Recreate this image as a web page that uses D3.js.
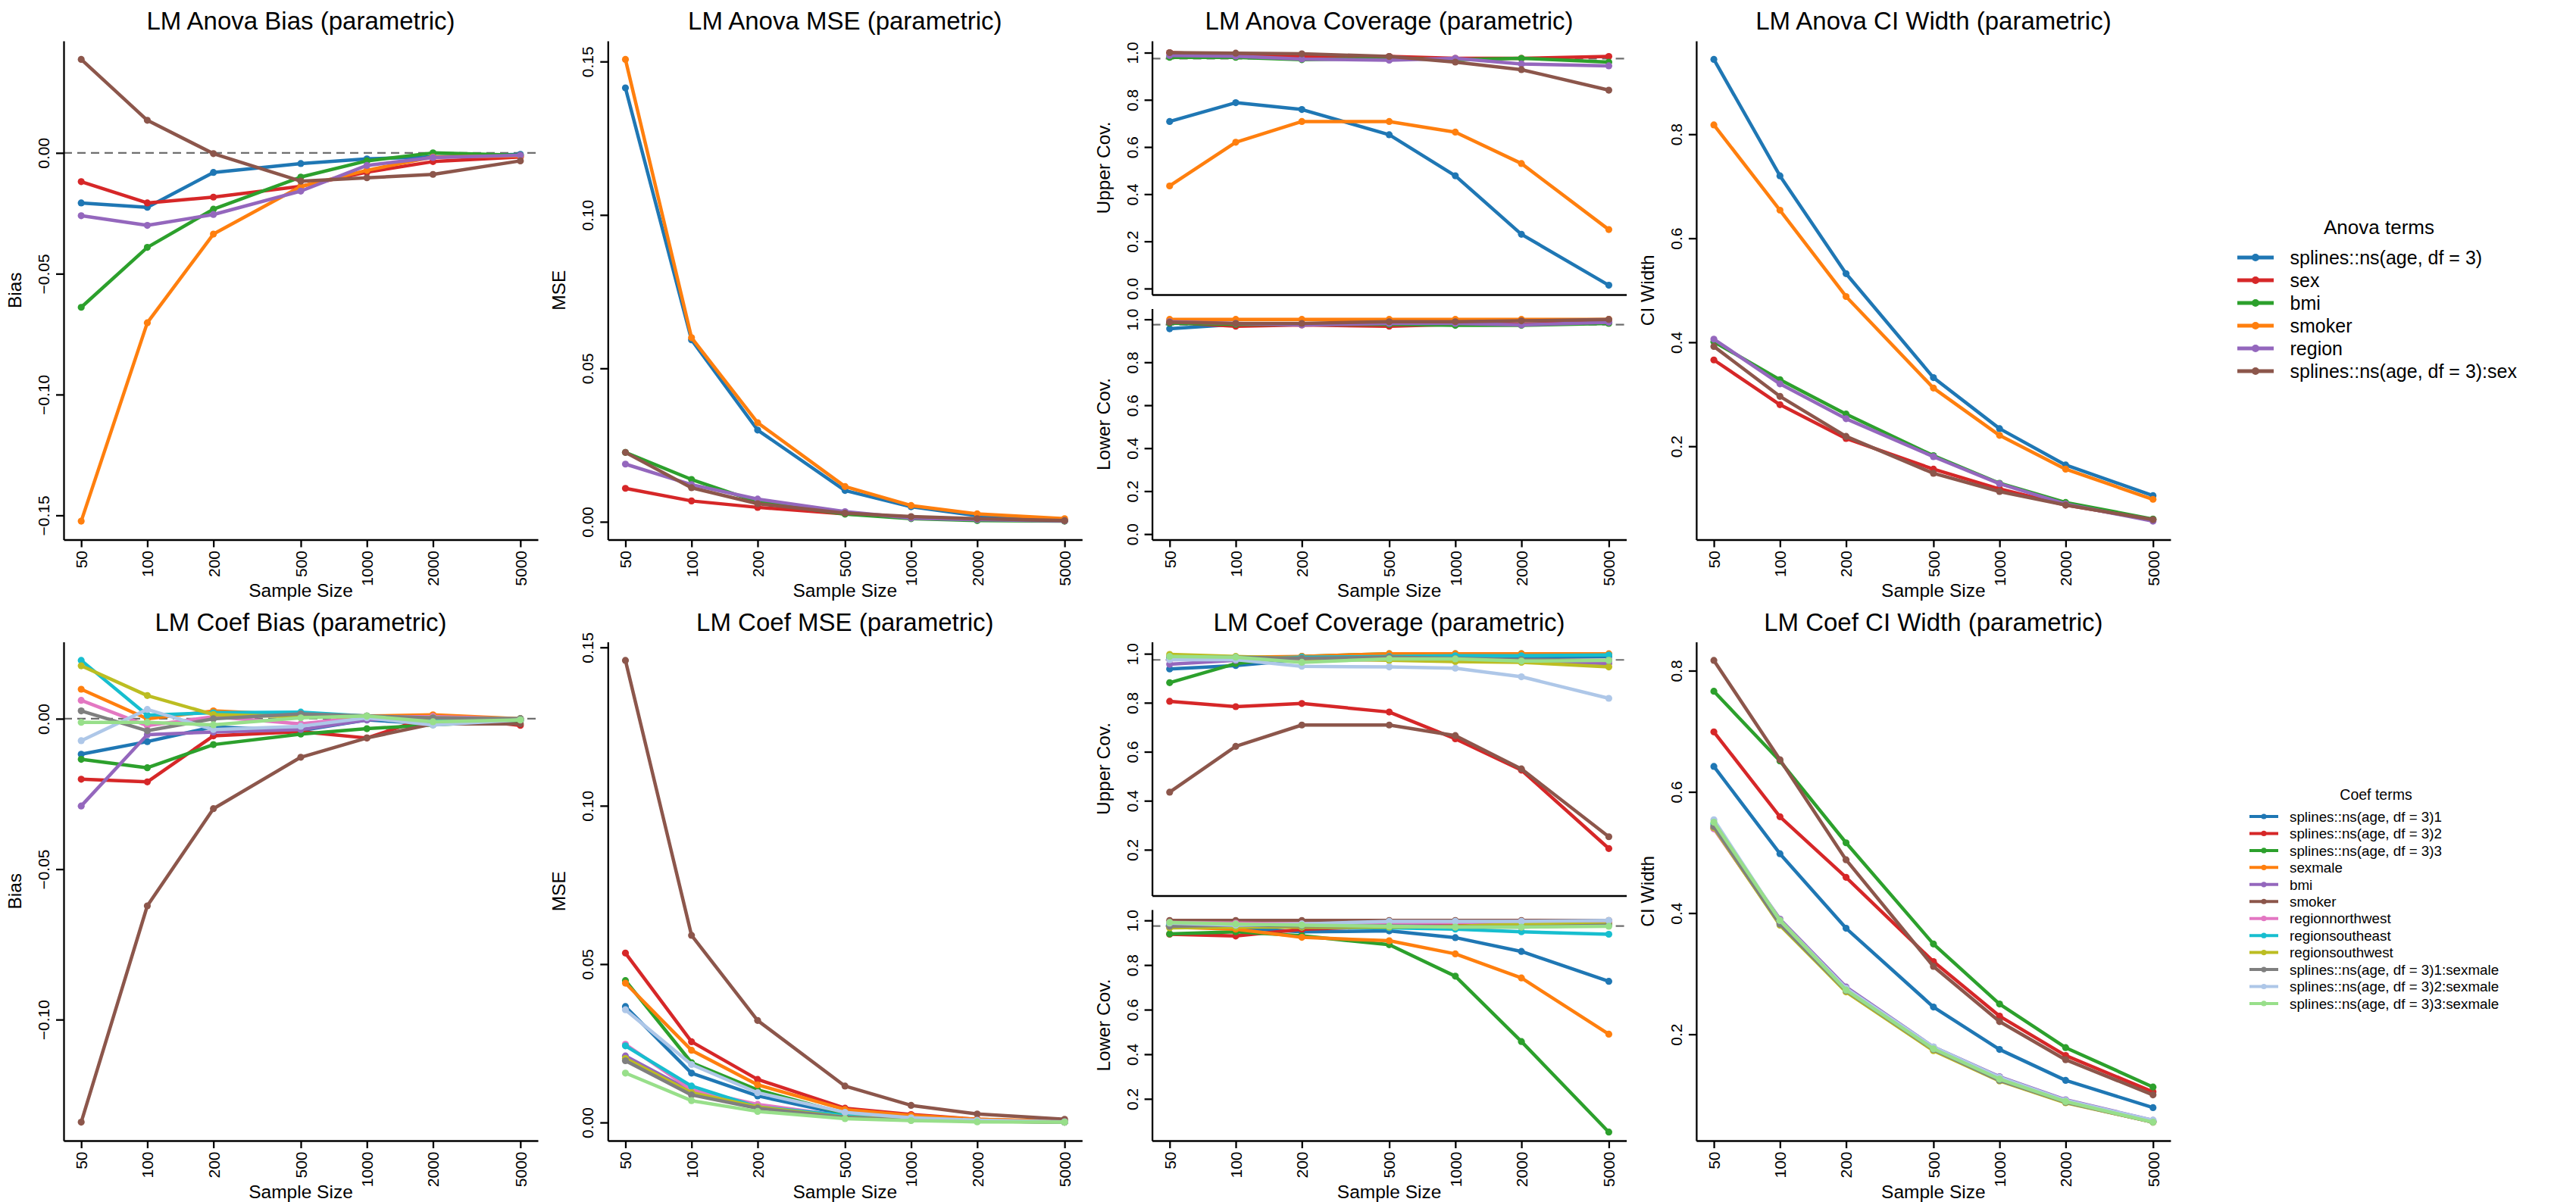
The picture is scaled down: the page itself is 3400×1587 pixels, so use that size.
<!DOCTYPE html>
<html>
<head>
<meta charset="utf-8">
<script src="https://cdn.jsdelivr.net/npm/d3@7"></script>
<style>
  body { margin: 0; background: #fff; }
</style>
</head>
<body>
<div id="chart"></div>
<script>
// Simulation summary: LM anova / coefficient terms vs sample size

const sampleSizes = [50, 100, 200, 500, 1000, 2000, 5000];

const anovaTerms = [
  "splines::ns(age, df = 3)", "sex", "bmi", "smoker", "region",
  "splines::ns(age, df = 3):sex"
];
const coefTerms = [
  "splines::ns(age, df = 3)1", "splines::ns(age, df = 3)2", "splines::ns(age, df = 3)3",
  "sexmale", "bmi", "smoker", "regionnorthwest", "regionsoutheast", "regionsouthwest",
  "splines::ns(age, df = 3)1:sexmale", "splines::ns(age, df = 3)2:sexmale",
  "splines::ns(age, df = 3)3:sexmale"
];

const anovaColors = ["#1f77b4", "#d62728", "#2ca02c", "#ff7f0e", "#9467bd", "#8c564b"];
const coefColors = ["#1f77b4", "#d62728", "#2ca02c", "#ff7f0e", "#9467bd", "#8c564b",
  "#e377c2", "#17becf", "#bcbd22", "#7f7f7f", "#aec7e8", "#98df8a"];

// ---- Anova terms (rows follow anovaTerms) ----
const anovaBias = [
  [-0.0207, -0.0225, -0.0081, -0.0044, -0.0025, -0.0016, -0.0006],
  [-0.0119, -0.0207, -0.0183, -0.0138, -0.0080, -0.0036, -0.0017],
  [-0.0639, -0.0391, -0.0233, -0.0100, -0.0033, 0.0000, -0.0010],
  [-0.1524, -0.0703, -0.0336, -0.0139, -0.0072, -0.0017, -0.0013],
  [-0.0260, -0.0300, -0.0255, -0.0158, -0.0052, -0.0019, -0.0010],
  [0.0387, 0.0135, -0.0003, -0.0117, -0.0103, -0.0089, -0.0033]
];
const anovaMse = [
  [0.1414, 0.0593, 0.0299, 0.0102, 0.0049, 0.0020, 0.0005],
  [0.0109, 0.0068, 0.0047, 0.0026, 0.0015, 0.0008, 0.0003],
  [0.0226, 0.0138, 0.0065, 0.0025, 0.0010, 0.0004, 0.0002],
  [0.1507, 0.0600, 0.0323, 0.0115, 0.0053, 0.0026, 0.0010],
  [0.0188, 0.0121, 0.0074, 0.0033, 0.0012, 0.0007, 0.0003],
  [0.0226, 0.0111, 0.0059, 0.0028, 0.0017, 0.0010, 0.0004]
];
const anovaUpperCov = [
  [0.708, 0.788, 0.759, 0.652, 0.478, 0.230, 0.014],
  [1.000, 0.990, 0.985, 0.984, 0.976, 0.976, 0.984],
  [0.980, 0.980, 0.970, 0.976, 0.970, 0.976, 0.960],
  [0.435, 0.620, 0.708, 0.708, 0.663, 0.530, 0.250],
  [0.988, 0.985, 0.973, 0.968, 0.976, 0.952, 0.944],
  [1.000, 0.998, 0.995, 0.984, 0.960, 0.928, 0.841]
];
const anovaLowerCov = [
  [0.956, 0.977, 0.977, 0.986, 0.982, 0.977, 0.986],
  [0.986, 0.968, 0.974, 0.968, 0.977, 0.977, 0.986],
  [0.982, 0.977, 0.977, 0.977, 0.972, 0.972, 0.981],
  [1.000, 1.000, 1.000, 1.000, 1.000, 1.000, 1.000],
  [0.989, 0.981, 0.974, 0.981, 0.981, 0.974, 0.986],
  [0.986, 0.981, 0.981, 0.989, 0.989, 0.993, 1.000]
];
const anovaCiWidth = [
  [0.944, 0.720, 0.532, 0.332, 0.234, 0.164, 0.105],
  [0.366, 0.280, 0.215, 0.156, 0.118, 0.087, 0.059],
  [0.401, 0.328, 0.262, 0.182, 0.129, 0.092, 0.060],
  [0.818, 0.654, 0.488, 0.312, 0.221, 0.156, 0.098],
  [0.406, 0.320, 0.253, 0.180, 0.128, 0.089, 0.056],
  [0.392, 0.296, 0.219, 0.148, 0.113, 0.087, 0.059]
];

// ---- Coefficient terms (rows follow coefTerms) ----
const coefBias = [
  [-0.0118, -0.0076, -0.0027, -0.0039, -0.0004, -0.0017, -0.0004],
  [-0.0201, -0.0210, -0.0057, -0.0043, -0.0064, 0.0009, -0.0022],
  [-0.0135, -0.0163, -0.0086, -0.0051, -0.0033, -0.0020, -0.0007],
  [0.0098, 0.0000, 0.0026, 0.0012, 0.0009, 0.0013, 0.0000],
  [-0.0290, -0.0053, -0.0044, -0.0036, -0.0004, 0.0007, -0.0004],
  [-0.1341, -0.0622, -0.0299, -0.0128, -0.0064, -0.0017, -0.0017],
  [0.0061, -0.0023, 0.0007, -0.0017, 0.0007, 0.0007, 0.0000],
  [0.0194, 0.0012, 0.0020, 0.0022, 0.0009, -0.0004, 0.0000],
  [0.0176, 0.0077, 0.0014, 0.0007, 0.0007, 0.0003, 0.0000],
  [0.0026, -0.0040, 0.0000, 0.0016, 0.0009, 0.0003, 0.0000],
  [-0.0073, 0.0031, -0.0036, -0.0025, 0.0003, -0.0021, -0.0004],
  [-0.0012, -0.0012, -0.0020, 0.0003, 0.0009, -0.0010, -0.0004]
];
const coefMse = [
  [0.0366, 0.0156, 0.0084, 0.0025, 0.0012, 0.0005, 0.0002],
  [0.0535, 0.0255, 0.0136, 0.0045, 0.0025, 0.0010, 0.0002],
  [0.0448, 0.0189, 0.0103, 0.0028, 0.0016, 0.0007, 0.0002],
  [0.0440, 0.0228, 0.0119, 0.0041, 0.0022, 0.0010, 0.0004],
  [0.0210, 0.0099, 0.0049, 0.0020, 0.0010, 0.0005, 0.0001],
  [0.1459, 0.0591, 0.0322, 0.0115, 0.0054, 0.0027, 0.0010],
  [0.0247, 0.0103, 0.0057, 0.0020, 0.0010, 0.0005, 0.0001],
  [0.0242, 0.0115, 0.0049, 0.0022, 0.0010, 0.0005, 0.0001],
  [0.0202, 0.0094, 0.0049, 0.0017, 0.0009, 0.0004, 0.0001],
  [0.0195, 0.0087, 0.0045, 0.0016, 0.0007, 0.0004, 0.0001],
  [0.0356, 0.0183, 0.0094, 0.0032, 0.0015, 0.0007, 0.0002],
  [0.0156, 0.0069, 0.0035, 0.0012, 0.0006, 0.0002, 0.0001]
];
const coefUpperCov = [
  [0.938, 0.952, 0.976, 0.989, 0.989, 0.989, 0.989],
  [0.806, 0.784, 0.797, 0.762, 0.653, 0.525, 0.205],
  [0.882, 0.960, 0.989, 1.000, 1.000, 1.000, 0.997],
  [0.989, 0.986, 0.989, 1.000, 1.000, 1.000, 1.000],
  [0.957, 0.973, 0.981, 0.976, 0.973, 0.968, 0.960],
  [0.435, 0.622, 0.709, 0.709, 0.666, 0.530, 0.253],
  [0.976, 0.981, 0.973, 0.976, 0.976, 0.973, 0.973],
  [0.981, 0.981, 0.986, 0.989, 0.992, 0.992, 0.995],
  [0.997, 0.989, 0.981, 0.973, 0.968, 0.965, 0.946],
  [0.986, 0.986, 0.981, 0.986, 0.981, 0.976, 0.973],
  [0.976, 0.976, 0.949, 0.946, 0.941, 0.906, 0.818],
  [0.989, 0.986, 0.965, 0.979, 0.979, 0.970, 0.973]
];
const coefLowerCov = [
  [0.979, 0.967, 0.949, 0.953, 0.923, 0.861, 0.727],
  [0.938, 0.930, 0.960, 0.974, 0.979, 0.984, 0.988],
  [0.940, 0.949, 0.931, 0.891, 0.750, 0.457, 0.051],
  [0.970, 0.961, 0.924, 0.909, 0.850, 0.742, 0.490],
  [0.988, 0.984, 0.979, 0.988, 0.991, 0.996, 0.996],
  [1.000, 1.000, 1.000, 1.000, 1.000, 1.000, 1.000],
  [0.991, 0.988, 0.984, 0.991, 0.991, 0.995, 0.996],
  [0.979, 0.974, 0.970, 0.967, 0.961, 0.949, 0.938],
  [0.967, 0.970, 0.970, 0.970, 0.974, 0.984, 0.984],
  [0.974, 0.979, 0.975, 0.975, 0.970, 0.970, 0.979],
  [0.988, 0.979, 0.984, 0.996, 0.996, 0.996, 1.000],
  [0.991, 0.984, 0.979, 0.974, 0.970, 0.970, 0.974]
];
const coefCiWidth = [
  [0.642, 0.498, 0.375, 0.245, 0.175, 0.124, 0.079],
  [0.699, 0.559, 0.459, 0.320, 0.230, 0.165, 0.105],
  [0.766, 0.651, 0.516, 0.349, 0.250, 0.178, 0.113],
  [0.540, 0.382, 0.271, 0.174, 0.124, 0.088, 0.055],
  [0.545, 0.390, 0.278, 0.179, 0.130, 0.092, 0.058],
  [0.817, 0.653, 0.488, 0.312, 0.221, 0.158, 0.100],
  [0.539, 0.383, 0.272, 0.175, 0.124, 0.088, 0.055],
  [0.548, 0.384, 0.273, 0.176, 0.126, 0.089, 0.056],
  [0.541, 0.380, 0.270, 0.173, 0.123, 0.087, 0.055],
  [0.543, 0.382, 0.272, 0.175, 0.124, 0.088, 0.055],
  [0.554, 0.388, 0.276, 0.179, 0.129, 0.091, 0.058],
  [0.550, 0.388, 0.273, 0.176, 0.126, 0.089, 0.055]
];

const COV_TARGET = 0.975;   // one-sided nominal coverage
const COV_TOP = 1.01;

// ---------------------------------------------------------------
const W = 3400, H = 1587;
const FONT = "'Liberation Sans', Arial, Helvetica, sans-serif";
const COL_W = 718.3, ROW_H = 793.5;
const PX = [84, 710];
const LOG_PAD = Math.pow(10, 0.08);   // R's 4% axis extension on 2 decades

const svg = d3.select("#chart").append("svg")
  .attr("width", W).attr("height", H)
  .style("display", "block")
  .style("background", "#fff");

function padDomain(lo, hi) {
  var p = (hi - lo) * 0.04;
  return [lo - p, hi + p];
}

function extentOf(series) {
  return d3.extent(series.flat());
}

// ticks at a fixed step inside the domain (like R's pretty())
function stepTicks(domain, step) {
  var out = [];
  for (var k = Math.ceil(domain[0] / step - 1e-9); k * step <= domain[1] + 1e-9; k++) {
    out.push(+(k * step).toFixed(6));
  }
  return out;
}

function drawTitle(col, row, text) {
  svg.append("text")
    .attr("x", col * COL_W + (PX[0] + PX[1]) / 2)
    .attr("y", row * ROW_H + 39)
    .attr("text-anchor", "middle")
    .attr("font-family", FONT).attr("font-size", 33)
    .attr("fill", "#000").text(text);
}

function drawPanel(o) {
  var g = svg.append("g")
    .attr("transform", "translate(" + (o.col * COL_W) + "," + (o.row * ROW_H) + ")");

  var x = d3.scaleLog()
    .domain([sampleSizes[0] / LOG_PAD, sampleSizes[sampleSizes.length - 1] * LOG_PAD])
    .range(PX);
  var y = d3.scaleLinear().domain(o.domain).range([o.bottom, o.top]);

  // reference line
  if (o.refY != null) {
    g.append("line")
      .attr("x1", PX[0]).attr("x2", PX[1])
      .attr("y1", y(o.refY)).attr("y2", y(o.refY))
      .attr("stroke", "#6e6e6e").attr("stroke-width", 2.2)
      .attr("stroke-dasharray", "11,7");
  }

  var line = d3.line()
    .x(function (d, i) { return x(sampleSizes[i]); })
    .y(function (d) { return y(d); });

  o.series.forEach(function (s, k) {
    g.append("path")
      .attr("d", line(s))
      .attr("fill", "none")
      .attr("stroke", o.colors[k])
      .attr("stroke-width", 4.5)
      .attr("stroke-linejoin", "round")
      .attr("stroke-linecap", "round");
    g.selectAll(null).data(s).enter().append("circle")
      .attr("cx", function (d, i) { return x(sampleSizes[i]); })
      .attr("cy", function (d) { return y(d); })
      .attr("r", 4.6)
      .attr("fill", o.colors[k]);
  });

  // y axis
  var ya = g.append("g")
    .attr("transform", "translate(" + PX[0] + ",0)")
    .call(d3.axisLeft(y)
      .tickValues(stepTicks(o.domain, o.step))
      .tickFormat(d3.format(o.fmt)).tickSize(10).tickSizeOuter(0));
  ya.attr("font-family", FONT).attr("font-size", 21);
  ya.select(".domain").attr("stroke", "#000").attr("stroke-width", 2.3);
  ya.selectAll(".tick line").attr("stroke", "#000").attr("stroke-width", 2.3);
  ya.selectAll(".tick text")
    .attr("transform", "rotate(-90)")
    .attr("x", 0).attr("y", -19).attr("dy", null)
    .attr("text-anchor", "middle").attr("fill", "#000");

  // x axis
  var xa = g.append("g")
    .attr("transform", "translate(0," + o.bottom + ")")
    .call(d3.axisBottom(x)
      .tickValues(o.xLabels ? sampleSizes : [])
      .tickFormat(d3.format("d"))
      .tickSize(10).tickSizeOuter(0));
  xa.attr("font-family", FONT).attr("font-size", 21);
  xa.select(".domain").attr("stroke", "#000").attr("stroke-width", 2.3);
  xa.selectAll(".tick line").attr("stroke", "#000").attr("stroke-width", 2.3);
  xa.selectAll(".tick text")
    .attr("transform", "rotate(-90)")
    .attr("x", -14.5).attr("y", 0).attr("dy", "0.35em")
    .attr("text-anchor", "end").attr("fill", "#000");

  // axis titles
  g.append("text")
    .attr("transform", "translate(28," + ((o.top + o.bottom) / 2) + ") rotate(-90)")
    .attr("text-anchor", "middle")
    .attr("font-family", FONT).attr("font-size", 24.5)
    .attr("fill", "#000").text(o.yTitle);

  if (o.xLabels) {
    g.append("text")
      .attr("x", (PX[0] + PX[1]) / 2).attr("y", 788)
      .attr("text-anchor", "middle")
      .attr("font-family", FONT).attr("font-size", 24.5)
      .attr("fill", "#000").text("Sample Size");
  }
}

function drawRow(row, label, terms, colors, bias, mse, upper, lower, ciw) {
  var b = extentOf(bias), m = extentOf(mse), c = extentOf(ciw);
  var covDomain = padDomain(d3.min(upper.concat(lower).flat()), COV_TOP);

  drawTitle(0, row, "LM " + label + " Bias (parametric)");
  drawPanel({ col: 0, row: row, top: 54, bottom: 712.5, series: bias, colors: colors,
    domain: padDomain(b[0], b[1]), step: 0.05, fmt: ".2f", yTitle: "Bias",
    xLabels: true, refY: 0 });

  drawTitle(1, row, "LM " + label + " MSE (parametric)");
  drawPanel({ col: 1, row: row, top: 54, bottom: 712.5, series: mse, colors: colors,
    domain: padDomain(m[0], m[1]), step: 0.05, fmt: ".2f", yTitle: "MSE", xLabels: true });

  drawTitle(2, row, "LM " + label + " Coverage (parametric)");
  drawPanel({ col: 2, row: row, top: 54, bottom: 389, series: upper, colors: colors,
    domain: covDomain, step: 0.2, fmt: ".1f", yTitle: "Upper Cov.",
    xLabels: false, refY: COV_TARGET });
  drawPanel({ col: 2, row: row, top: 407.5, bottom: 712.5, series: lower, colors: colors,
    domain: covDomain, step: 0.2, fmt: ".1f", yTitle: "Lower Cov.",
    xLabels: true, refY: COV_TARGET });

  drawTitle(3, row, "LM " + label + " CI Width (parametric)");
  drawPanel({ col: 3, row: row, top: 54, bottom: 712.5, series: ciw, colors: colors,
    domain: padDomain(c[0], c[1]), step: 0.2, fmt: ".1f", yTitle: "CI Width", xLabels: true });
}

function drawLegend(o) {
  var g = svg.append("g");
  g.append("text")
    .attr("x", o.titleX).attr("y", o.titleY)
    .attr("text-anchor", "middle")
    .attr("font-family", FONT).attr("font-size", o.titleSize)
    .attr("fill", "#000").text(o.title);

  var item = g.selectAll("g.item").data(o.terms).enter().append("g")
    .attr("class", "item")
    .attr("transform", function (d, i) { return "translate(0," + (o.y0 + i * o.step) + ")"; });
  item.append("line")
    .attr("x1", o.lineX[0]).attr("x2", o.lineX[1])
    .attr("stroke", function (d, i) { return o.colors[i]; })
    .attr("stroke-width", o.lw);
  item.append("circle")
    .attr("cx", (o.lineX[0] + o.lineX[1]) / 2)
    .attr("r", o.r)
    .attr("fill", function (d, i) { return o.colors[i]; });
  item.append("text")
    .attr("x", o.textX).attr("dy", "0.36em")
    .attr("font-family", FONT).attr("font-size", o.size)
    .attr("fill", "#000").text(function (d) { return d; });
}

drawRow(0, "Anova", anovaTerms, anovaColors, anovaBias, anovaMse, anovaUpperCov, anovaLowerCov, anovaCiWidth);
drawRow(1, "Coef", coefTerms, coefColors, coefBias, coefMse, coefUpperCov, coefLowerCov, coefCiWidth);

drawLegend({ title: "Anova terms", terms: anovaTerms, colors: anovaColors,
  titleX: 3140, titleY: 309, titleSize: 26, y0: 340, step: 30,
  lineX: [2953, 3001], textX: 3022.5, size: 25, lw: 5, r: 5 });
drawLegend({ title: "Coef terms", terms: coefTerms, colors: coefColors,
  titleX: 3136, titleY: 1056, titleSize: 19.5, y0: 1078, step: 22.45,
  lineX: [2969, 3007], textX: 3022, size: 18.8, lw: 4, r: 3.6 });
</script>
</body>
</html>
